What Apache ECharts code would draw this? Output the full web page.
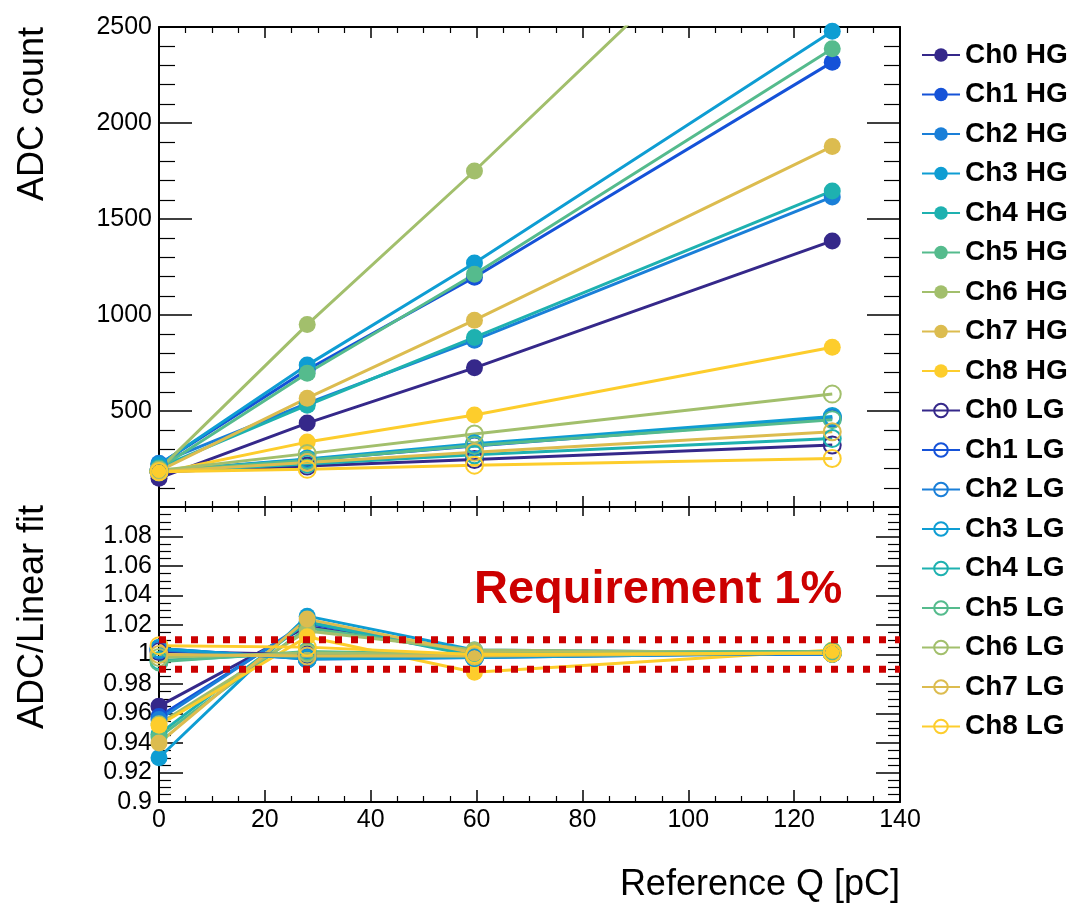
<!DOCTYPE html>
<html><head><meta charset="utf-8">
<script src="https://cdn.jsdelivr.net/npm/echarts@6/dist/echarts.min.js"></script>
<style>html,body{margin:0;padding:0;background:#fff}#c{width:1078px;height:903px}</style>
</head><body><div id="c"></div>
<script>
// ---- data ----
const refQ = [0, 28, 59.6, 127.2];
const channelNames = ['Ch0', 'Ch1', 'Ch2', 'Ch3', 'Ch4', 'Ch5', 'Ch6', 'Ch7', 'Ch8'];
const channelColors = ['#35288a', '#1552d8', '#1a7fd8', '#0e9dd3', '#1eb1b0', '#55bb8d', '#a2bf6c', '#dcbc4f', '#fdcd2c'];
const adcHG = [
  [150, 437, 725, 1386],
  [222, 715, 1197, 2317],
  [228, 540, 869, 1615],
  [220, 739, 1271, 2478],
  [205, 530, 883, 1646],
  [200, 697, 1212, 2387],
  [195, 950, 1750, 3530],
  [188, 567, 973, 1878],
  [178, 338, 479, 832]
];
const adcLG = [
  [182, 213, 247, 323],
  [186, 245, 318, 462],
  [186, 247, 322, 466],
  [188, 250, 330, 472],
  [184, 224, 272, 357],
  [186, 243, 320, 455],
  [190, 278, 380, 588],
  [185, 232, 285, 392],
  [183, 196, 218, 253]
];
const ratioHG = [
  [0.965, 1.019, 1.001, 1.001],
  [0.958, 1.021, 1.002, 1.001],
  [0.956, 1.022, 1.000, 1.000],
  [0.930, 1.026, 1.003, 1.001],
  [0.946, 1.022, 0.999, 1.001],
  [0.944, 1.018, 1.002, 1.002],
  [0.953, 1.016, 1.003, 1.001],
  [0.940, 1.024, 1.001, 1.001],
  [0.952, 1.012, 0.988, 1.003]
];
const ratioLG = [
  [1.002, 1.000, 0.999, 1.001],
  [1.004, 0.997, 0.998, 1.001],
  [1.003, 0.998, 0.999, 1.001],
  [1.004, 0.997, 0.998, 1.001],
  [0.996, 1.001, 1.000, 1.001],
  [0.995, 1.002, 1.000, 1.002],
  [0.998, 1.001, 1.000, 1.001],
  [1.000, 0.999, 0.999, 1.001],
  [1.006, 1.005, 1.000, 1.001]
];
const reqLimits = [0.99, 1.01];
const qRange = [0, 140];

// ---- chart ----
const FONT = "'Liberation Sans', Arial, Helvetica, sans-serif";
const chart = echarts.init(document.getElementById('c'), null, {renderer: 'canvas'});
const fmt = v => String(parseFloat(Number(v).toFixed(3)));

function mkX(grid, pos, showLabel, major, minor) {
  return {
    type: 'value', gridIndex: grid, position: pos, min: qRange[0], max: qRange[1], interval: 20,
    axisLine: {show: true, onZero: false, lineStyle: {color: '#000', width: 2}},
    axisTick: {show: true, inside: true, length: major, lineStyle: {color: '#000', width: 1.5}},
    minorTick: {show: true, splitNumber: 4, length: minor, lineStyle: {color: '#000', width: 1.2}},
    axisLabel: {show: showLabel, fontSize: 25, color: '#000', fontFamily: FONT, margin: 6, formatter: fmt},
    splitLine: {show: false}
  };
}
function mkY(grid, pos, showLabel, min, max, interval, major, minor, split, labelExtra) {
  return {
    type: 'value', gridIndex: grid, position: pos, min: min, max: max, interval: interval,
    axisLine: {show: true, onZero: false, lineStyle: {color: '#000', width: 2}},
    axisTick: {show: true, inside: true, length: major, lineStyle: {color: '#000', width: 1.5}},
    minorTick: {show: true, splitNumber: split, length: minor, lineStyle: {color: '#000', width: 1.2}},
    axisLabel: Object.assign({show: showLabel, fontSize: 25, color: '#000', fontFamily: FONT, margin: 7, formatter: fmt}, labelExtra || {}),
    splitLine: {show: false}
  };
}

const series = [];
const legendNames = [];
function addSeries(name, vals, color, hollow, xi, yi) {
  series.push({
    name: name, type: 'line', xAxisIndex: xi, yAxisIndex: yi,
    data: refQ.map((q, i) => [q, vals[i]]),
    symbol: 'circle', symbolSize: 17, clip: true,
    lineStyle: {color: color, width: 3},
    itemStyle: hollow ? {color: 'rgba(255,255,255,0)', borderColor: color, borderWidth: 2}
                      : {color: color, borderWidth: 0},
    emphasis: {disabled: true}, animation: false
  });
}
channelNames.forEach((c, i) => { legendNames.push(c + ' HG'); addSeries(c + ' HG', adcHG[i], channelColors[i], false, 0, 0); });
channelNames.forEach((c, i) => { legendNames.push(c + ' LG'); addSeries(c + ' LG', adcLG[i], channelColors[i], true, 0, 0); });
channelNames.forEach((c, i) => addSeries(c + ' HG', ratioHG[i], channelColors[i], false, 2, 2));
channelNames.forEach((c, i) => addSeries(c + ' LG', ratioLG[i], channelColors[i], true, 2, 2));
reqLimits.forEach((v) => {
  series.push({
    name: 'req' + v, type: 'line', xAxisIndex: 2, yAxisIndex: 2, z: 10, silent: true,
    data: qRange.map(q => [q, v]), symbol: 'none',
    lineStyle: {color: '#cc0000', width: 7, type: [7, 9], cap: 'butt'}, animation: false
  });
});

chart.setOption({
  animation: false,
  backgroundColor: '#fff',
  grid: [
    {left: 159, top: 27, width: 741, height: 480},
    {left: 159, top: 507, width: 741, height: 295}
  ],
  xAxis: [
    mkX(0, 'bottom', false, 11, 6),
    mkX(0, 'top', false, 11, 6),
    mkX(1, 'bottom', true, 12, 6),
    mkX(1, 'top', false, 9, 5)
  ],
  yAxis: [
    mkY(0, 'left', true, 0, 2500, 500, 33, 16, 5, {showMinLabel: false}),
    mkY(0, 'right', false, 0, 2500, 500, 33, 16, 5),
    mkY(1, 'left', true, 0.9, 1.1, 0.02, 24, 12, 4, {showMaxLabel: false}),
    mkY(1, 'right', false, 0.9, 1.1, 0.02, 24, 12, 4)
  ],
  legend: {
    data: legendNames, orient: 'vertical', left: 921, top: 41, padding: 0,
    itemWidth: 38, itemHeight: 17, itemGap: 11.5, selectedMode: false,
    textStyle: {fontSize: 28, fontWeight: 'bold', color: '#000', fontFamily: FONT}
  },
  graphic: [
    {type: 'text', x: 474, y: 590, silent: true,
     style: {text: 'Requirement 1%', fontSize: 47, fontWeight: 'bold', fill: '#cc0000', fontFamily: FONT, textAlign: 'left', textVerticalAlign: 'middle'}},
    {type: 'text', x: 33, y: 27, rotation: Math.PI / 2, silent: true,
     style: {text: 'ADC count', fontSize: 36, fill: '#000', fontFamily: FONT, textAlign: 'right', textVerticalAlign: 'middle'}},
    {type: 'text', x: 33, y: 505, rotation: Math.PI / 2, silent: true,
     style: {text: 'ADC/Linear fit', fontSize: 36, fill: '#000', fontFamily: FONT, textAlign: 'right', textVerticalAlign: 'middle'}},
    {type: 'text', x: 900, y: 885, silent: true,
     style: {text: 'Reference Q [pC]', fontSize: 36, fill: '#000', fontFamily: FONT, textAlign: 'right', textVerticalAlign: 'middle'}}
  ],
  series: series
});
</script>
</body></html>
